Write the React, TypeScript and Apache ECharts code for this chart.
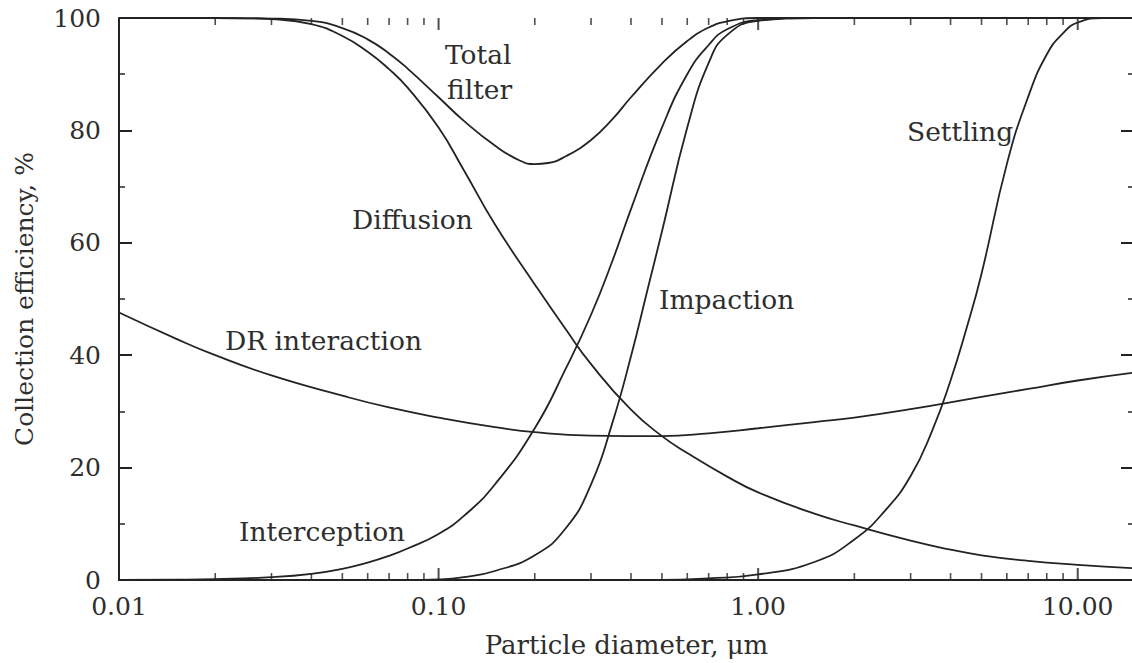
import React, { useEffect, useRef } from "react";
import * as echarts from "echarts";

// Particle diameters (µm) and collection efficiencies (%) for each mechanism
const diffusionD = [0.01, 0.02, 0.025, 0.03, 0.04, 0.05, 0.06, 0.07, 0.08, 0.1, 0.12, 0.15, 0.2, 0.25, 0.3, 0.4, 0.5, 0.6, 0.8, 1.0, 1.5, 2, 3, 4, 5, 7, 10, 15];
const diffusionE = [100, 100, 99.95, 99.8, 98.9, 96.8, 94.0, 90.9, 87.6, 80.5, 72.9, 63.3, 52.6, 44.6, 38.4, 30.3, 25.6, 22.6, 18.4, 15.6, 11.8, 9.7, 7.0, 5.4, 4.4, 3.4, 2.7, 2.1];

const totalD = [0.01, 0.02, 0.03, 0.04, 0.05, 0.06, 0.07, 0.08, 0.1, 0.12, 0.15, 0.18, 0.2, 0.22, 0.25, 0.3, 0.35, 0.4, 0.5, 0.6, 0.7, 0.8, 1.0, 1.5, 15];
const totalE = [100, 100, 99.9, 99.5, 98.2, 96.2, 93.7, 91.0, 85.9, 81.7, 77.3, 74.6, 74.0, 74.2, 75.4, 78.3, 82.0, 85.9, 91.9, 95.9, 98.3, 99.4, 100, 100, 100];

const interceptionD = [0.01, 0.015, 0.02, 0.03, 0.04, 0.05, 0.06, 0.07, 0.08, 0.1, 0.12, 0.15, 0.2, 0.25, 0.3, 0.35, 0.4, 0.5, 0.6, 0.7, 0.8, 1.0, 1.5, 15];
const interceptionE = [0, 0.05, 0.15, 0.5, 1.1, 2.0, 3.1, 4.3, 5.6, 8.2, 11.4, 17.0, 27, 37.6, 47.2, 56.8, 66, 80.5, 90, 95.2, 98.0, 99.6, 100, 100];

const impactionD = [0.01, 0.08, 0.1, 0.12, 0.15, 0.2, 0.25, 0.3, 0.35, 0.4, 0.45, 0.5, 0.6, 0.7, 0.8, 1.0, 1.5, 15];
const impactionE = [0, 0, 0.1, 0.5, 1.6, 4.4, 9.2, 17, 28, 39.8, 51.5, 62, 80.5, 92, 97, 99.5, 100, 100];

const settlingD = [0.01, 0.5, 0.7, 1.0, 1.5, 2, 2.5, 3, 3.5, 4, 4.5, 5, 6, 7, 8, 9, 10, 12, 15];
const settlingE = [0, 0, 0.3, 1.0, 3.2, 7.2, 12.4, 18.5, 26.5, 35.5, 45, 54.5, 74, 86, 93.5, 97.3, 99.2, 100, 100];

const drD = [0.01, 0.015, 0.02, 0.03, 0.05, 0.07, 0.1, 0.15, 0.2, 0.3, 0.5, 0.7, 1.0, 1.5, 2, 3, 5, 7, 10, 15];
const drE = [47.6, 43.0, 40.0, 36.4, 32.8, 30.7, 28.9, 27.2, 26.3, 25.7, 25.6, 26.1, 27.0, 28.1, 28.9, 30.4, 32.6, 34.0, 35.5, 36.9];

// Logarithmic tick positions on the diameter axis
const decadeTicks = [0.1, 1, 10];
const minorTicks = [
  0.02, 0.03, 0.04, 0.05, 0.06, 0.07, 0.08, 0.09,
  0.2, 0.3, 0.4, 0.5, 0.6, 0.7, 0.8, 0.9,
  2, 3, 4, 5, 6, 7, 8, 9,
];

const yTicks = [0, 20, 40, 60, 80, 100];

const FONT = '"DejaVu Serif", serif';
const INK = "#232323";
const TEXT = "#2e2e2e";

const pair = (d: number[], e: number[]) => d.map((v, i) => [v, e[i]]);

export default function App() {
  const ref = useRef<HTMLDivElement>(null);

  useEffect(() => {
    if (!ref.current) return;
    const chart = echarts.init(ref.current, undefined, { renderer: "svg" });

    const curve = (name: string, d: number[], e: number[]) => ({
      name,
      type: "line",
      data: pair(d, e),
      smooth: 0.5,
      showSymbol: false,
      symbol: "none",
      lineStyle: { color: INK, width: 1.8 },
    });

    // Short tick marks drawn as thin rectangles on the bottom / top frame
    const ticks = (vals: number[], y: number, len: number, w: number, dir: number) => ({
      type: "scatter",
      silent: true,
      clip: false,
      symbol: "rect",
      symbolSize: [w, len],
      symbolOffset: [0, (dir * len) / 2],
      itemStyle: { color: INK },
      data: vals.map((v) => [v, y]),
    });

    const label = (text: string, x: number, y: number) => ({
      type: "text",
      x,
      y,
      style: {
        text,
        fill: TEXT,
        font: `26.5px ${FONT}`,
        textAlign: "left",
        verticalAlign: "middle",
      },
      z: 10,
    });

    const option = {
      animation: false,
      backgroundColor: "#ffffff",
      grid: { left: 119, top: 18, width: 1015, height: 562, outerBoundsMode: "none" },
      xAxis: [
        {
          type: "log",
          logBase: 10,
          min: 0.01,
          max: 15,
          position: "bottom",
          axisLine: { show: true, lineStyle: { color: INK, width: 2 } },
          axisTick: { show: false },
          minorTick: { show: false },
          splitLine: { show: false },
          axisLabel: {
            show: true,
            fontFamily: FONT,
            fontSize: 25,
            color: TEXT,
            margin: 14,
            showMinLabel: true,
            showMaxLabel: false,
            formatter: (v: number) => {
              const l = Math.log10(v);
              return Math.abs(l - Math.round(l)) < 1e-6 ? v.toFixed(2) : "";
            },
          },
          name: "Particle diameter, μm",
          nameLocation: "middle",
          nameGap: 52,
          nameTextStyle: { fontFamily: FONT, fontSize: 26, color: TEXT },
        },
        {
          type: "log",
          logBase: 10,
          min: 0.01,
          max: 15,
          position: "top",
          axisLine: { show: true, lineStyle: { color: INK, width: 2 } },
          axisTick: { show: false },
          axisLabel: { show: false },
          splitLine: { show: false },
        },
      ],
      yAxis: [
        {
          type: "value",
          min: yTicks[0],
          max: yTicks[yTicks.length - 1],
          interval: 20,
          position: "left",
          axisLine: { show: true, lineStyle: { color: INK, width: 2 } },
          axisTick: { show: true, inside: true, length: 13, lineStyle: { color: INK, width: 2 } },
          minorTick: { show: true, splitNumber: 2, length: 6, lineStyle: { color: INK, width: 1.5 } },
          splitLine: { show: false },
          axisLabel: { fontFamily: FONT, fontSize: 25, color: TEXT, margin: 18 },
          name: "Collection efficiency, %",
          nameLocation: "middle",
          nameGap: 82,
          nameRotate: 90,
          nameTextStyle: { fontFamily: FONT, fontSize: 25, color: TEXT },
        },
        {
          type: "value",
          min: yTicks[0],
          max: yTicks[yTicks.length - 1],
          interval: 20,
          position: "right",
          axisLine: { show: true, lineStyle: { color: INK, width: 2 } },
          axisTick: { show: true, inside: true, length: 13, lineStyle: { color: INK, width: 2 } },
          minorTick: { show: true, splitNumber: 2, length: 6, lineStyle: { color: INK, width: 1.5 } },
          splitLine: { show: false },
          axisLabel: { show: false },
        },
      ],
      series: [
        curve("Total filter", totalD, totalE),
        curve("Diffusion", diffusionD, diffusionE),
        curve("Interception", interceptionD, interceptionE),
        curve("Impaction", impactionD, impactionE),
        curve("Settling", settlingD, settlingE),
        curve("DR interaction", drD, drE),
        ticks(decadeTicks, yTicks[0], 12, 2, -1),
        ticks(decadeTicks, yTicks[yTicks.length - 1], 12, 2, 1),
        ticks(minorTicks, yTicks[0], 7, 1.6, -1),
        ticks(minorTicks, yTicks[yTicks.length - 1], 7, 1.6, 1),
      ],
      graphic: [
        label("Total", 445, 54),
        label("filter", 447, 89),
        label("Diffusion", 352, 219),
        label("Impaction", 659, 299),
        label("Settling", 907, 131),
        label("DR interaction", 225, 340),
        label("Interception", 239, 531),
      ],
    };

    chart.setOption(option as any);
    return () => chart.dispose();
  }, []);

  return (
    <div
      ref={ref}
      style={{ position: "absolute", left: 0, top: 0, width: 1132, height: 663, background: "#fff" }}
    />
  );
}
